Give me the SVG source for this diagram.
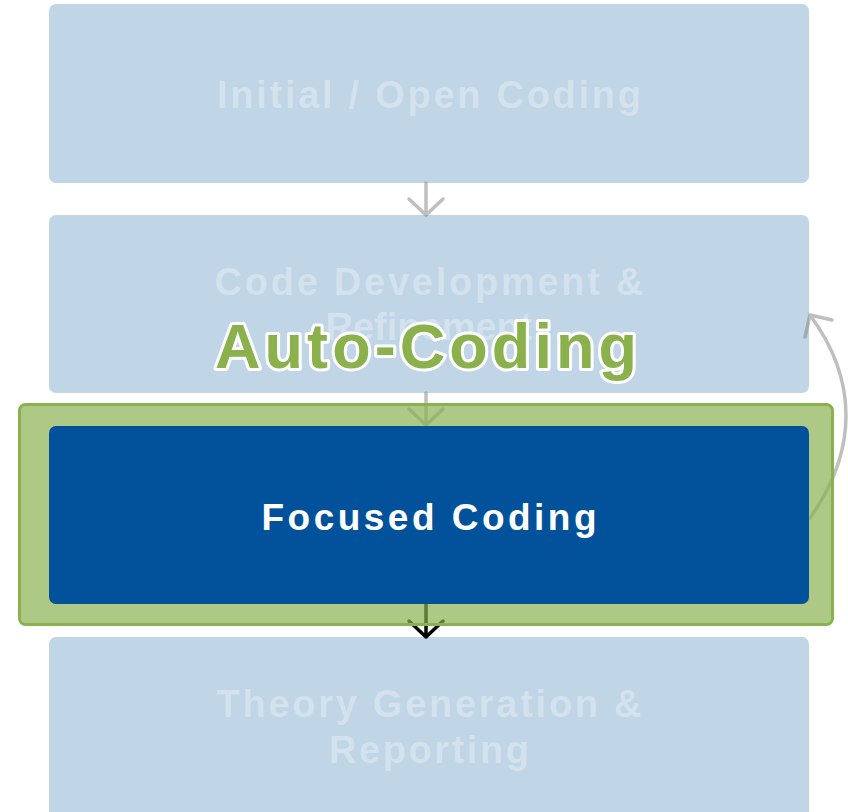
<svg xmlns="http://www.w3.org/2000/svg" width="848" height="812" viewBox="0 0 848 812">
  <style>
    .faded { fill: #c0d5e5; }
    .faded-label { fill: #ffffff; fill-opacity: 0.32; font-family: "Liberation Sans", Arial, sans-serif; font-weight: bold; font-size: 38px; text-anchor: middle; }
    .link { fill: none; stroke: #7f7f7f; stroke-opacity: 0.5; stroke-width: 3.5; stroke-linecap: round; stroke-linejoin: round; }
    .link-dark { fill: none; stroke: #000000; stroke-width: 3.5; stroke-linecap: round; stroke-linejoin: round; }
  </style>

  <!-- Faded step boxes -->
  <g id="node-initial">
    <rect class="faded" x="49" y="4" width="760" height="179" rx="7"/>
    <text class="faded-label" x="429" y="108" textLength="424" lengthAdjust="spacing">Initial / Open Coding</text>
  </g>
  <g id="node-development">
    <rect class="faded" x="49" y="215" width="760" height="178" rx="7"/>
    <text class="faded-label" x="429" y="295" textLength="429" lengthAdjust="spacing">Code Development &amp;</text>
    <text class="faded-label" x="429" y="340">Refinement</text>
  </g>
  <g id="node-theory">
    <rect class="faded" x="49" y="637" width="760" height="200" rx="7"/>
    <text class="faded-label" x="429" y="717" textLength="425" lengthAdjust="spacing">Theory Generation &amp;</text>
    <text class="faded-label" x="429" y="763" textLength="200" lengthAdjust="spacing">Reporting</text>
  </g>

  <!-- Connectors -->
  <g id="connectors">
    <path class="link" d="M426,183 V214 M409,199 L426,215 L443,199"/>
    <path class="link" d="M426,393 V424 M409,409 L426,425 L443,409"/>
    <path class="link-dark" d="M426,604 V636 M409,621 L426,637 L443,621"/>
    <path class="link" d="M810,518 C858,450 858,380 810,315 M832,320 L810,315 L805,337"/>
  </g>

  <!-- Highlighted step -->
  <g id="node-auto-coding-frame">
    <rect x="19.5" y="404.5" width="813" height="220" rx="6" fill="#8ab14f" fill-opacity="0.69" stroke="#8ab150" stroke-width="3"/>
  </g>
  <g id="node-focused">
    <rect x="49" y="426" width="760" height="178" rx="7" fill="#01529a"/>
    <text x="429" y="530" fill="#ffffff" font-family="Liberation Sans, Arial, sans-serif" font-weight="bold" font-size="37" text-anchor="middle" textLength="335" lengthAdjust="spacing">Focused Coding</text>
  </g>

  <!-- Overlay title -->
  <g id="label-auto-coding">
    <text x="426" y="368" fill="#8ab14c" stroke="#ffffff" stroke-width="6" stroke-linejoin="round" paint-order="stroke" font-family="Liberation Sans, Arial, sans-serif" font-weight="bold" font-size="63" text-anchor="middle" textLength="422" lengthAdjust="spacing">Auto-Coding</text>
  </g>
</svg>
